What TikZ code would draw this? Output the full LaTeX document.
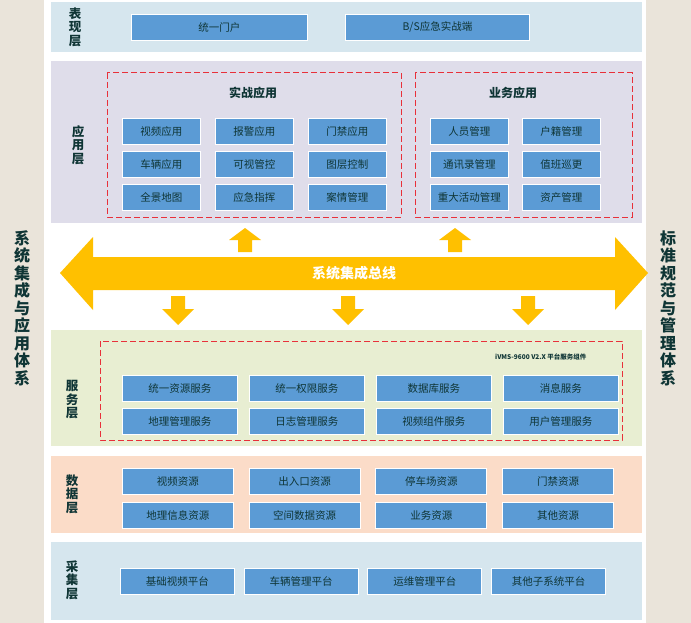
\documentclass[tikz,border=0pt]{standalone}
\usepackage{fontspec}
\setmainfont{Noto Sans CJK SC}
\usetikzlibrary{arrows.meta}
\definecolor{side}{HTML}{EAE4DA}
\definecolor{bl}{HTML}{D6E6EE}
\definecolor{pu}{HTML}{DFDDEA}
\definecolor{gr}{HTML}{E8EED2}
\definecolor{pe}{HTML}{FBDCC8}
\definecolor{bx}{HTML}{5B9BD5}
\definecolor{tx}{HTML}{0F3535}
\definecolor{yel}{HTML}{FFC000}
\definecolor{rd}{HTML}{E8303A}
\begin{document}
\begin{tikzpicture}[x=1pt,y=-1pt,
 bbox/.style={fill=bx,draw=white,line width=0.8pt,text=tx,font=\fontsize{10.5}{12}\selectfont,inner sep=0pt,anchor=north west},
 lbl/.style={text=tx,font=\bfseries\fontsize{12.5}{13.5}\selectfont,align=center,text width=14pt},
 reddash/.style={draw=rd,line width=1pt,dash pattern=on 6pt off 3pt}]
\useasboundingbox (0,0) rectangle (691,623);
\fill[white] (0,0) rectangle (691,623);
\fill[side] (0,0) rectangle (44,623);
\fill[side] (646,0) rectangle (691,623);
\node[lbl,font=\bfseries\fontsize{16}{17.5}\selectfont,text width=17pt] (ls) at (22,308) {系\\统\\集\\成\\与\\应\\用\\体\\系};
\node[lbl,font=\bfseries\fontsize{16}{17.5}\selectfont,text width=17pt] (rs) at (668,308) {标\\准\\规\\范\\与\\管\\理\\体\\系};
% bands
\fill[bl] (51,2) rectangle (642,52);
\fill[pu] (51,61) rectangle (642,223);
\fill[gr] (51,330) rectangle (642,446);
\fill[pe] (51,456) rectangle (642,533);
\fill[bl] (51,542) rectangle (642,620);
\node[lbl] (l1) at (75,27) {表\\现\\层};
\node[lbl] (l2) at (78,145) {应\\用\\层};
\node[lbl] (l3) at (72,400) {服\\务\\层};
\node[lbl] (l4) at (72,494) {数\\据\\层};
\node[lbl] (l5) at (72,580) {采\\集\\层};
% top
\node[bbox,minimum width=176pt,minimum height=26pt] (p1) at (131,14) {统一门户};
\node[bbox,minimum width=184pt,minimum height=26pt] (p2) at (345,14) {B/S应急实战端};
% app
\draw[reddash] (107,73) rectangle (401,217);
\draw[reddash] (415,73) rectangle (632,217);
\node[text=tx,font=\bfseries\fontsize{12}{13}\selectfont] (t1) at (253,93) {实战应用};
\node[text=tx,font=\bfseries\fontsize{12}{13}\selectfont] (t2) at (513,93) {业务应用};
\foreach \t [count=\i from 0] in {视频应用,报警应用,门禁应用,车辆应用,可视管控,图层控制,全景地图,应急指挥,案情管理}{
 \pgfmathsetmacro\cx{122+93*mod(\i,3)}\pgfmathsetmacro\cy{118+33*int(\i/3)}
 \node[bbox,minimum width=78pt,minimum height=26pt] (a\i) at (\cx,\cy) {\t};}
\foreach \t [count=\i from 0] in {人员管理,户籍管理,通讯录管理,值班巡更,重大活动管理,资产管理}{
 \pgfmathsetmacro\cx{430+92*mod(\i,2)}\pgfmathsetmacro\cy{118+33*int(\i/2)}
 \node[bbox,minimum width=78pt,minimum height=26pt] (b\i) at (\cx,\cy) {\t};}
% bus
\fill[yel] (60,273) -- (93,237) -- (93,257) -- (615,257) -- (615,237) -- (648,273) -- (615,310) -- (615,290) -- (93,290) -- (93,310) -- cycle;
\node[text=white,font=\bfseries\fontsize{14}{15}\selectfont] (bus) at (354,273) {系统集成总线};
\foreach \x in {245,455}{\fill[yel] (\x-7,252) -- (\x-7,240) -- (\x-16,240) -- (\x,228) -- (\x+16,240) -- (\x+7,240) -- (\x+7,252) -- cycle;}
\foreach \x in {178,348,528}{\fill[yel] (\x-7,296) -- (\x-7,309) -- (\x-16,309) -- (\x,325) -- (\x+16,309) -- (\x+7,309) -- (\x+7,296) -- cycle;}
% service
\draw[reddash] (100,341) rectangle (622,440);
\node[text=tx,font=\bfseries\fontsize{6.5}{7}\selectfont,anchor=east] (svt) at (590,357) {iVMS-9600 V2.X 平台服务组件};
\foreach \t [count=\i from 0] in {统一资源服务,统一权限服务,数据库服务,消息服务,地理管理服务,日志管理服务,视频组件服务,用户管理服务}{
 \pgfmathsetmacro\cx{122+127*mod(\i,4)}\pgfmathsetmacro\cy{375+33*int(\i/4)}
 \node[bbox,minimum width=115pt,minimum height=26pt] (s\i) at (\cx,\cy) {\t};}
% data
\foreach \t [count=\i from 0] in {视频资源,出入口资源,停车场资源,门禁资源,地理信息资源,空间数据资源,业务资源,其他资源}{
 \pgfmathsetmacro\cx{122+126.7*mod(\i,4)}\pgfmathsetmacro\cy{468+34*int(\i/4)}
 \node[bbox,minimum width=111pt,minimum height=26pt] (d\i) at (\cx,\cy) {\t};}
% collect
\foreach \t [count=\i from 0] in {基础视频平台,车辆管理平台,运维管理平台,其他子系统平台}{
 \pgfmathsetmacro\cx{120+123.7*\i}
 \node[bbox,minimum width=114pt,minimum height=26pt] (c\i) at (\cx,568) {\t};}
\end{tikzpicture}
\end{document}
